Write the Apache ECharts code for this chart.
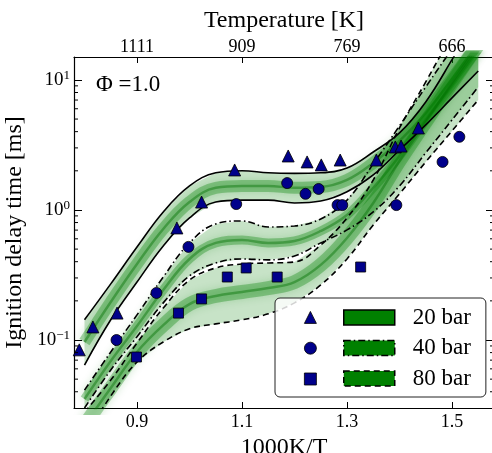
<!DOCTYPE html>
<html><head><meta charset="utf-8">
<script src="https://cdn.jsdelivr.net/npm/echarts@6/dist/echarts.min.js"></script>
<style>html,body{margin:0;padding:0;background:#fff}#c{width:492px;height:453px}</style>
</head><body><div id="c"></div>
<script>
// ---- data ----
const invT = [0.80,0.85,0.90,0.95,1.00,1.05,1.10,1.15,1.20,1.25,1.30,1.35,1.40,1.45,1.50,1.55];

const upper20 = [0.143,0.270,0.519,0.965,1.53,1.93,2.00,1.93,1.91,1.93,2.10,2.79,3.91,6.77,14.3,31.6];
const core20  = [0.0965,0.196,0.384,0.714,1.15,1.48,1.53,1.53,1.48,1.50,1.70,2.30,3.40,5.57,10.2,19.3];
const lower20 = [0.0642,0.143,0.279,0.529,0.868,1.15,1.19,1.19,1.13,1.17,1.38,1.86,2.89,4.51,7.27,11.7];

const upper40 = [0.0412,0.0808,0.156,0.305,0.558,0.781,0.823,0.740,0.753,0.853,1.19,2.26,4.43,8.83,17.3,34.0];
const core40  = [0.0352,0.0690,0.128,0.242,0.420,0.558,0.588,0.558,0.578,0.689,0.915,1.48,2.60,4.92,9.15,17.3];
const lower40 = [0.0300,0.0588,0.106,0.193,0.311,0.391,0.420,0.413,0.443,0.558,0.702,0.965,1.53,2.75,4.92,8.83];

const upper80 = [0.0279,0.0492,0.0948,0.176,0.289,0.358,0.384,0.391,0.398,0.538,0.868,1.70,4.27,9.65,22.2,49.2];
const core80  = [0.0222,0.0427,0.0808,0.130,0.189,0.218,0.234,0.251,0.279,0.378,0.609,1.13,2.38,4.75,9.48,18.6];
const lower80 = [0.0176,0.0371,0.0677,0.0965,0.122,0.133,0.143,0.159,0.193,0.265,0.420,0.767,1.33,2.34,4.05,7.02];

const tri20X = [0.790,0.816,0.862,0.976,1.023,1.086,1.188,1.224,1.251,1.287,1.356,1.392,1.403,1.436];
const tri20Y = [0.084,0.126,0.161,0.727,1.15,2.03,2.60,2.34,2.22,2.42,2.42,3.05,3.10,4.27];
const circ40X = [0.861,0.937,0.998,1.089,1.186,1.221,1.246,1.282,1.291,1.394,1.482,1.514];
const circ40Y = [0.100,0.230,0.520,1.11,1.61,1.33,1.45,1.09,1.09,1.09,2.34,3.65];
const sq80X = [0.899,0.979,1.023,1.072,1.108,1.167,1.326];
const sq80Y = [0.074,0.161,0.207,0.305,0.358,0.305,0.364];

const xTicks = [0.9,1.1,1.3,1.5];
const tempTickLabels = ['1111','909','769','666'];
const yMinorTicks = [0.04,0.05,0.06,0.07,0.08,0.09,0.2,0.3,0.4,0.5,0.6,0.7,0.8,0.9,2,3,4,5,6,7,8,9];
const xMin = 0.78, xMax = 1.58, yMin = 0.03, yMax = 15;
const pressureNames = ['20 bar','40 bar','80 bar'];

// ---- styles ----
const FONT = '"Liberation Serif","DejaVu Serif",serif';
const GREEN = '#008000';
const BLUE = '#00008B';
const dashes = ['solid', [7,3,1.5,3], [6,4]];

const zip = (xs, ys) => xs.map((x, i) => [x, ys[i]]);

function bandRender(fill) {
  return function (params, api) {
    if (params.dataIndexInside !== 0) return null;
    const n = params.dataInsideLength;
    const up = [], lo = [];
    for (let i = 0; i < n; i++) {
      up.push(api.coord([api.value(0, i), api.value(2, i)]));
      lo.push(api.coord([api.value(0, i), api.value(1, i)]));
    }
    return { type: 'polygon', shape: { points: up.concat(lo.reverse()) }, style: { fill: fill } };
  };
}

const bands = [
  [upper20, core20, lower20, 12],
  [upper40, core40, lower40, 9],
  [upper80, core80, lower80, 14]
];

const series = [];
bands.forEach((b, k) => {
  const [up, core, lo, w] = b;
  series.push({
    type: 'custom', name: pressureNames[k], clip: true, silent: true, z: 1,
    data: invT.map((x, i) => [x, lo[i], up[i]]),
    encode: { x: 0, y: [1, 2] },
    renderItem: bandRender('rgba(0,128,0,0.22)')
  });
  series.push({
    type: 'line', name: 'core' + k, data: zip(invT, core), smooth: 0.4, showSymbol: false, silent: true, z: 2,
    lineStyle: { width: w, color: 'rgba(0,128,0,0.32)', shadowBlur: 8, shadowColor: 'rgba(0,128,0,0.55)' }
  });
  series.push({
    type: 'line', name: 'coreIn' + k, data: zip(invT, core), smooth: 0.4, showSymbol: false, silent: true, z: 2,
    lineStyle: { width: 2.5, color: 'rgba(0,110,0,0.42)' }
  });
  [up, lo].forEach((arr, j) => series.push({
    type: 'line', name: 'bound' + k + j, data: zip(invT, arr), smooth: 0.4, showSymbol: false, silent: true, z: 3,
    lineStyle: { width: 1.6, color: '#000', type: dashes[k] }
  }));
});

const pts = [[tri20X, tri20Y, 'triangle', 12], [circ40X, circ40Y, 'circle', 11], [sq80X, sq80Y, 'rect', 10]];
pts.forEach((p, k) => series.push({
  type: 'scatter', name: pressureNames[k] + ' pts', data: zip(p[0], p[1]), symbol: p[2], symbolSize: p[3], z: 4,
  itemStyle: { color: BLUE, borderColor: '#000', borderWidth: 0.8, opacity: 1 }
}));

// minor ticks of the log axis (left and right spines, inward)
series.push({
  type: 'custom', name: 'minorTicks', silent: true, z: 5, clip: false,
  data: yMinorTicks.map(v => [xMin, v]),
  encode: { x: 0, y: 1 },
  renderItem: function (params, api) {
    const p = api.coord([api.value(0), api.value(1)]);
    const cs = params.coordSys;
    return { type: 'group', children: [
      { type: 'line', shape: { x1: cs.x, y1: p[1], x2: cs.x + 4, y2: p[1] }, style: { stroke: '#000', lineWidth: 1 } },
      { type: 'line', shape: { x1: cs.x + cs.width, y1: p[1], x2: cs.x + cs.width - 4, y2: p[1] }, style: { stroke: '#000', lineWidth: 1 } }
    ] };
  }
});

const axisLine = { show: true, lineStyle: { color: '#000', width: 1.2 } };
const supRich = {
  b: { fontSize: 19, fontFamily: FONT, color: '#000' },
  s: { fontSize: 13, fontFamily: FONT, color: '#000', padding: [0, 0, 8, 0] }
};

const option = {
  animation: false,
  backgroundColor: '#fff',
  textStyle: { fontFamily: FONT },
  grid: { left: 74, right: -2, top: 57, bottom: 45, outerBoundsMode: 'none', containLabel: false },
  xAxis: [
    { type: 'value', position: 'bottom', min: xMin, max: xMax, axisLine: axisLine, splitLine: { show: false },
      axisTick: { customValues: xTicks, inside: true, length: 6, lineStyle: { color: '#000' } },
      axisLabel: { customValues: xTicks, formatter: v => v.toFixed(1), fontFamily: FONT, fontSize: 18, color: '#000', margin: 5 },
      name: '1000K/T', nameLocation: 'middle', nameGap: 26,
      nameTextStyle: { fontFamily: FONT, fontSize: 24, color: '#000' } },
    { type: 'value', position: 'top', min: xMin, max: xMax, axisLine: axisLine, splitLine: { show: false },
      axisTick: { customValues: xTicks, inside: true, length: 6, lineStyle: { color: '#000' } },
      axisLabel: { customValues: xTicks, formatter: v => tempTickLabels[xTicks.findIndex(t => Math.abs(t - v) < 1e-6)],
        fontFamily: FONT, fontSize: 18, color: '#000', margin: 1 },
      name: 'Temperature [K]', nameLocation: 'middle', nameGap: 21,
      nameTextStyle: { fontFamily: FONT, fontSize: 24, color: '#000' } }
  ],
  yAxis: [
    { type: 'log', logBase: 10, position: 'left', min: yMin, max: yMax, axisLine: axisLine, splitLine: { show: false },
      minorTick: { show: false },
      axisTick: { inside: true, length: 8, lineStyle: { color: '#000' } },
      axisLabel: { showMinLabel: false, showMaxLabel: false, margin: 4,
        formatter: v => { const e = Math.round(Math.log10(v)); return '{b|10}{s|' + (e < 0 ? '\u2212' : '') + Math.abs(e) + '}'; },
        rich: supRich },
      name: 'Ignition delay time [ms]', nameLocation: 'middle', nameGap: 33, nameRotate: 90,
      nameTextStyle: { fontFamily: FONT, fontSize: 24, color: '#000' } },
    { type: 'log', logBase: 10, position: 'right', min: yMin, max: yMax, axisLine: axisLine, splitLine: { show: false },
      axisTick: { inside: true, length: 8, lineStyle: { color: '#000' } }, axisLabel: { show: false } }
  ],
  legend: [
    { show: true, orient: 'vertical', left: 275, top: 298, z: 6, selectedMode: false,
      padding: [8, 15, 7, 68], itemGap: 7.5, itemWidth: 51, itemHeight: 15,
      backgroundColor: 'rgba(255,255,255,0.82)', borderColor: '#222', borderWidth: 1, borderRadius: 5,
      textStyle: { fontFamily: FONT, fontSize: 23, color: '#000', padding: [0, 0, 0, 13] },
      data: pressureNames.map((n, k) => ({ name: n, icon: 'rect',
        itemStyle: { color: GREEN, borderColor: '#000', borderWidth: 1.5, borderType: dashes[k], opacity: 1 } })) },
    { show: true, orient: 'vertical', left: 304, top: 311, z: 7, selectedMode: false,
      padding: 0, itemGap: 18, itemWidth: 12, itemHeight: 12, formatter: () => '',
      itemStyle: { borderColor: '#000', borderWidth: 0.8 },
      data: pressureNames.map(n => n + ' pts') }
  ],
  graphic: [
    { type: 'text', left: 96, top: 73, z: 10, style: { text: '\u03A6 =1.0', font: '23px ' + FONT, fill: '#000' } }
  ],
  series: series
};

const chart = echarts.init(document.getElementById('c'), null, { renderer: 'canvas' });
chart.setOption(option);
</script></body></html>
